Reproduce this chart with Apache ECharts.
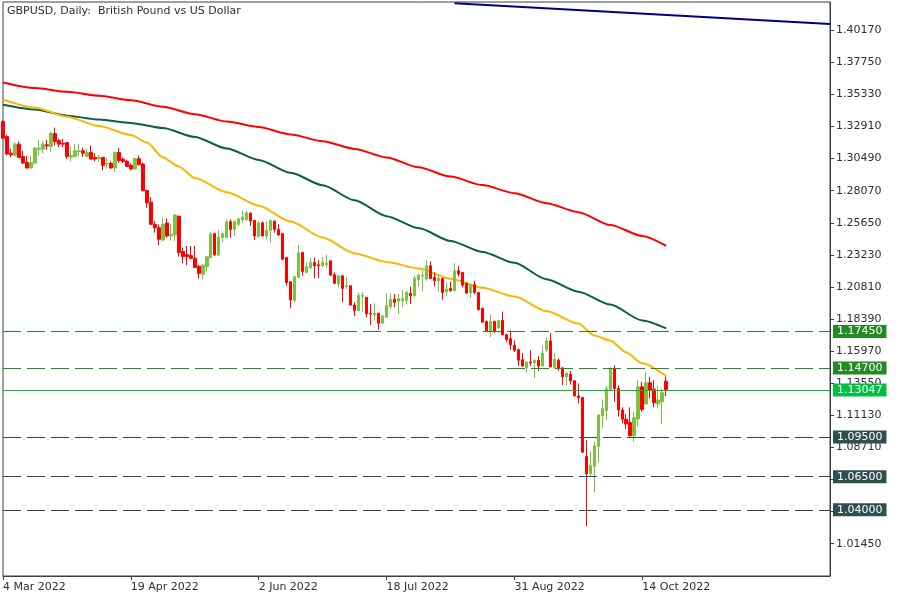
<!DOCTYPE html>
<html><head><meta charset="utf-8">
<script src="https://cdn.jsdelivr.net/npm/echarts@6/dist/echarts.min.js"></script>
<style>html,body{margin:0;padding:0;background:#fff}#c{width:900px;height:600px}</style>
</head><body><div id="c"></div>
<script>
// ---- data (GBPUSD daily, 4 Mar 2022 .. 24 Oct 2022) ----
const xTickLabels = ['4 Mar 2022','19 Apr 2022','2 Jun 2022','18 Jul 2022','31 Aug 2022','14 Oct 2022'];
const yTickValues = [1.0145,1.0387,1.0629,1.0871,1.1113,1.1355,1.1597,1.1839,1.2081,1.2323,1.2565,1.2807,1.3049,1.3291,1.3533,1.3775,1.4017];

const open = [1.3328,1.3215,1.3090,1.3073,1.3158,1.3065,1.3020,1.2978,1.3015,1.3120,1.3120,1.3153,1.3140,1.3238,1.3185,1.3163,1.3170,1.3060,1.3065,1.3103,
1.3108,1.3065,1.3095,1.3058,1.3048,1.3058,1.3008,1.3013,1.2978,1.3095,1.3045,1.3028,1.2998,1.2970,1.3048,1.3008,1.2808,1.2720,1.2553,1.2528,
1.2435,1.2563,1.2465,1.2473,1.2615,1.2348,1.2325,1.2318,1.2298,1.2235,1.2178,1.2235,1.2303,1.2483,1.2323,1.2453,1.2453,1.2573,1.2515,1.2553,
1.2590,1.2590,1.2638,1.2583,1.2460,1.2565,1.2465,1.2508,1.2578,1.2515,1.2483,1.2303,1.2120,1.1978,1.2153,1.2340,1.2190,1.2223,1.2265,1.2248,
1.2240,1.2248,1.2278,1.2173,1.2103,1.2165,1.2083,1.2090,1.1945,1.1903,1.2010,1.2003,1.1883,1.1870,1.1883,1.1808,1.1853,1.1933,1.1988,1.1973,
1.1978,1.1978,1.2033,1.2015,1.2138,1.2163,1.2140,1.2240,1.2153,1.2128,1.2145,1.2045,1.2070,1.2053,1.2203,1.2190,1.2108,1.2035,1.2098,1.2040,
1.1920,1.1820,1.1745,1.1820,1.1773,1.1828,1.1720,1.1690,1.1640,1.1608,1.1533,1.1470,1.1515,1.1508,1.1528,1.1485,1.1608,1.1673,1.1473,1.1528,
1.1470,1.1403,1.1423,1.1373,1.1258,1.1248,1.0803,1.0673,1.0728,1.0878,1.1108,1.1148,1.1303,1.1465,1.1315,1.1153,1.1083,1.1058,1.0958,1.1085,
1.1328,1.1198,1.1358,1.1310,1.1198,1.1215,1.1370];
const high = [1.3340,1.3228,1.3123,1.3170,1.3178,1.3108,1.3070,1.3070,1.3140,1.3190,1.3178,1.3190,1.3253,1.3283,1.3198,1.3198,1.3175,1.3140,1.3158,1.3158,
1.3133,1.3123,1.3148,1.3088,1.3078,1.3060,1.3053,1.3028,1.3103,1.3128,1.3058,1.3040,1.3015,1.3053,1.3073,1.3020,1.2815,1.2758,1.2578,1.2553,
1.2603,1.2598,1.2558,1.2630,1.2618,1.2378,1.2390,1.2390,1.2390,1.2248,1.2253,1.2315,1.2498,1.2490,1.2510,1.2490,1.2590,1.2590,1.2583,1.2603,
1.2653,1.2653,1.2640,1.2585,1.2578,1.2573,1.2578,1.2590,1.2580,1.2553,1.2485,1.2308,1.2123,1.2160,1.2398,1.2348,1.2265,1.2298,1.2303,1.2283,
1.2308,1.2323,1.2280,1.2190,1.2168,1.2168,1.2158,1.2093,1.1965,1.2040,1.2040,1.2005,1.1953,1.1958,1.1885,1.1865,1.2033,1.2033,1.2028,1.2028,
1.2060,1.2053,1.2083,1.2165,1.2183,1.2203,1.2285,1.2273,1.2190,1.2178,1.2148,1.2115,1.2120,1.2260,1.2240,1.2193,1.2115,1.2108,1.2128,1.2043,
1.1923,1.1828,1.1873,1.1828,1.1833,1.1895,1.1728,1.1753,1.1678,1.1615,1.1583,1.1518,1.1603,1.1535,1.1558,1.1640,1.1698,1.1733,1.1583,1.1543,
1.1478,1.1440,1.1448,1.1378,1.1353,1.1250,1.0928,1.0840,1.0915,1.1118,1.1233,1.1335,1.1478,1.1490,1.1338,1.1173,1.1123,1.1173,1.1140,1.1378,
1.1365,1.1440,1.1403,1.1378,1.1333,1.1315,1.1403];
const low = [1.3198,1.3073,1.3060,1.3065,1.3053,1.3008,1.2975,1.2975,1.3013,1.3073,1.3090,1.3115,1.3098,1.3148,1.3135,1.3135,1.3045,1.3028,1.3060,1.3065,
1.3060,1.3063,1.3043,1.3028,1.3023,1.2960,1.2973,1.2973,1.2948,1.3015,1.3015,1.2985,1.2960,1.2968,1.2998,1.2803,1.2678,1.2548,1.2490,1.2395,
1.2423,1.2453,1.2433,1.2428,1.2310,1.2258,1.2245,1.2288,1.2223,1.2145,1.2138,1.2198,1.2298,1.2313,1.2313,1.2420,1.2450,1.2453,1.2465,1.2540,
1.2565,1.2578,1.2540,1.2435,1.2458,1.2463,1.2440,1.2413,1.2490,1.2465,1.2283,1.2090,1.1920,1.1965,1.2150,1.2165,1.2183,1.2215,1.2145,1.2148,
1.2233,1.2223,1.2165,1.2103,1.2078,1.1965,1.2065,1.1940,1.1860,1.1900,1.1890,1.1853,1.1795,1.1828,1.1758,1.1803,1.1848,1.1915,1.1928,1.1878,
1.1928,1.1948,1.1953,1.2003,1.2083,1.2048,1.2128,1.2140,1.2085,1.2045,1.1985,1.2015,1.2045,1.2048,1.2160,1.2078,1.2028,1.1998,1.2028,1.1903,
1.1813,1.1740,1.1703,1.1733,1.1765,1.1718,1.1665,1.1608,1.1590,1.1485,1.1478,1.1433,1.1485,1.1395,1.1448,1.1483,1.1590,1.1475,1.1465,1.1448,
1.1340,1.1340,1.1345,1.1253,1.1203,1.0828,1.0278,1.0653,1.0533,1.0758,1.1020,1.1078,1.1295,1.1215,1.1103,1.1053,1.1010,1.0953,1.0915,1.1028,
1.1140,1.1195,1.1240,1.1173,1.1165,1.1048,1.1258];
const close = [1.3203,1.3083,1.3078,1.3158,1.3058,1.3015,1.2978,1.3020,1.3128,1.3128,1.3158,1.3145,1.3238,1.3178,1.3158,1.3158,1.3065,1.3073,1.3108,1.3108,
1.3090,1.3095,1.3045,1.3045,1.3058,1.2998,1.3013,1.2978,1.3095,1.3035,1.3028,1.2990,1.2970,1.3050,1.3003,1.2808,1.2715,1.2553,1.2528,1.2440,
1.2553,1.2465,1.2478,1.2623,1.2340,1.2310,1.2310,1.2298,1.2228,1.2183,1.2245,1.2308,1.2480,1.2323,1.2458,1.2483,1.2573,1.2515,1.2573,1.2595,
1.2608,1.2640,1.2578,1.2465,1.2565,1.2465,1.2508,1.2583,1.2515,1.2473,1.2290,1.2115,1.1983,1.2158,1.2338,1.2198,1.2233,1.2265,1.2240,1.2240,
1.2265,1.2258,1.2170,1.2108,1.2165,1.2070,1.2093,1.1945,1.1903,1.2018,1.2018,1.1878,1.1878,1.1883,1.1808,1.1863,1.1940,1.1988,1.1965,1.1993,
1.1993,1.2040,1.2015,1.2145,1.2170,1.2170,1.2240,1.2145,1.2128,1.2145,1.2040,1.2065,1.2053,1.2203,1.2178,1.2095,1.2035,1.2095,1.2040,1.1910,
1.1815,1.1745,1.1820,1.1745,1.1828,1.1720,1.1685,1.1645,1.1603,1.1528,1.1485,1.1515,1.1508,1.1528,1.1485,1.1583,1.1673,1.1478,1.1535,1.1465,
1.1403,1.1428,1.1373,1.1260,1.1245,1.0835,1.0673,1.0735,1.0883,1.1115,1.1163,1.1313,1.1465,1.1315,1.1153,1.1083,1.1048,1.0958,1.1095,1.1328,
1.1158,1.1358,1.1303,1.1208,1.1228,1.1283,1.1305];

// moving averages [bar index, value]
const ma50 = [[0,1.3495],[8,1.3433],[16,1.3365],[24,1.3294],[32,1.3227],[36,1.3170],[40,1.3058],[44,1.2990],[48,1.2903],[56,1.2795],[64,1.2694],
[72,1.2574],[80,1.2454],[88,1.2334],[96,1.2270],[104,1.2221],[112,1.2143],[120,1.2075],[128,1.2008],[136,1.1899],[144,1.1805],[148,1.1715],
[152,1.1677],[156,1.1587],[160,1.1505],[166,1.1407]];
const ma100 = [[0,1.3455],[8,1.3419],[16,1.3373],[24,1.3343],[32,1.3317],[40,1.3279],[48,1.3212],[56,1.3125],[64,1.3039],[72,1.2942],[80,1.2848],
[88,1.2735],[96,1.2615],[104,1.2525],[112,1.2428],[120,1.2345],[128,1.2263],[136,1.2139],[144,1.2045],[152,1.1948],[160,1.1828],[166,1.1768]];
const ma200 = [[0,1.3623],[8,1.3581],[16,1.3553],[24,1.3523],[32,1.3489],[40,1.3440],[48,1.3384],[56,1.3328],[64,1.3287],[72,1.3230],[80,1.3180],
[88,1.3122],[96,1.3058],[104,1.2983],[112,1.2913],[120,1.2849],[128,1.2788],[136,1.2713],[144,1.2645],[152,1.2548],[160,1.2465],[166,1.2390]];
const trendLine = [[113,1.4220],[207,1.4064]];

const supportLevels = [1.1745, 1.1470];
const resistLevels = [1.0950, 1.0650, 1.0400];
const lastPrice = 1.13047;

const totalBars = 208;
const categories = Array.from({length: totalBars}, (_, i) => String(i));
const candleData = open.map((o, i) => [o, close[i], low[i], high[i]]);

const FONT = 'DejaVu Sans';
const AX = '#3b3f4a';
const TXT = '#2c2f3a';

const isTick = (i) => i % 32 === 0 && i / 32 < xTickLabels.length;

function lvl(v, color, dashed) {
  return {
    yAxis: v,
    lineStyle: {color: color, width: 1, type: dashed ? [18, 6] : 'solid'},
    label: {backgroundColor: color}
  };
}

const chart = echarts.init(document.getElementById('c'), null, {renderer: 'canvas'});
chart.setOption({
  animation: false,
  backgroundColor: '#ffffff',
  title: {
    text: 'GBPUSD, Daily:  British Pound vs US Dollar',
    left: 7, top: 6, padding: 0,
    textStyle: {fontFamily: FONT, fontSize: 11, fontWeight: 'normal', color: TXT}
  },
  grid: {left: 3, right: 70, top: 2, bottom: 24, show: true, borderColor: AX, borderWidth: 1, backgroundColor: '#fff'},
  xAxis: {
    type: 'category', data: categories, boundaryGap: false,
    axisLine: {show: true, lineStyle: {color: AX}},
    axisTick: {show: true, length: 4, interval: (i) => isTick(i), lineStyle: {color: AX}},
    axisLabel: {
      interval: (i) => isTick(i), align: 'left', margin: 6,
      fontFamily: FONT, fontSize: 11, color: TXT,
      formatter: (v, i) => isTick(i) ? xTickLabels[i / 32] : ''
    },
    splitLine: {show: false}
  },
  yAxis: {
    type: 'value', position: 'right', scale: true,
    min: 0.99011, max: 1.42299,
    axisLine: {show: true, lineStyle: {color: AX}},
    axisTick: {show: true, length: 4, customValues: yTickValues, lineStyle: {color: AX}},
    axisLabel: {
      customValues: yTickValues, margin: 6, fontFamily: FONT, fontSize: 11, color: TXT,
      formatter: (v) => v.toFixed(5)
    },
    splitLine: {show: false}
  },
  series: [
    {
      type: 'line', data: ma200, showSymbol: false, symbol: 'none', z: 3,
      lineStyle: {color: '#ff0000', width: 2}, smooth: 0.25, smoothMonotone: 'x', silent: true
    },
    {
      type: 'line', data: ma100, showSymbol: false, symbol: 'none', z: 3,
      lineStyle: {color: '#0d5c4c', width: 2}, smooth: 0.25, smoothMonotone: 'x', silent: true
    },
    {
      type: 'line', data: ma50, showSymbol: false, symbol: 'none', z: 3,
      lineStyle: {color: '#ffb400', width: 2}, smooth: 0.25, smoothMonotone: 'x', silent: true
    },
    {
      type: 'line', data: trendLine, showSymbol: false, symbol: 'none', z: 3, clip: true,
      lineStyle: {color: '#000080', width: 2}, silent: true
    },
    {
      type: 'candlestick', data: candleData, barWidth: 3, z: 4,
      itemStyle: {color: '#7dc242', color0: '#ff0000', borderColor: '#7dc242', borderColor0: '#ff0000', borderWidth: 1},
      markLine: {
        silent: true, symbol: ['none', 'none'], animation: false, z: 10, precision: 5,
        label: {
          show: true, position: 'end', distance: 3, color: '#ffffff',
          fontFamily: FONT, fontSize: 11, padding: [1, 4, 0, 4], lineHeight: 12,
          formatter: (p) => Number(p.value).toFixed(5)
        },
        data: [
          ...supportLevels.map(v => lvl(v, '#238b23', true)),
          lvl(lastPrice, '#00c040', false),
          ...resistLevels.map(v => lvl(v, '#2f4f4f', true))
        ]
      }
    }
  ]
});
</script></body></html>
